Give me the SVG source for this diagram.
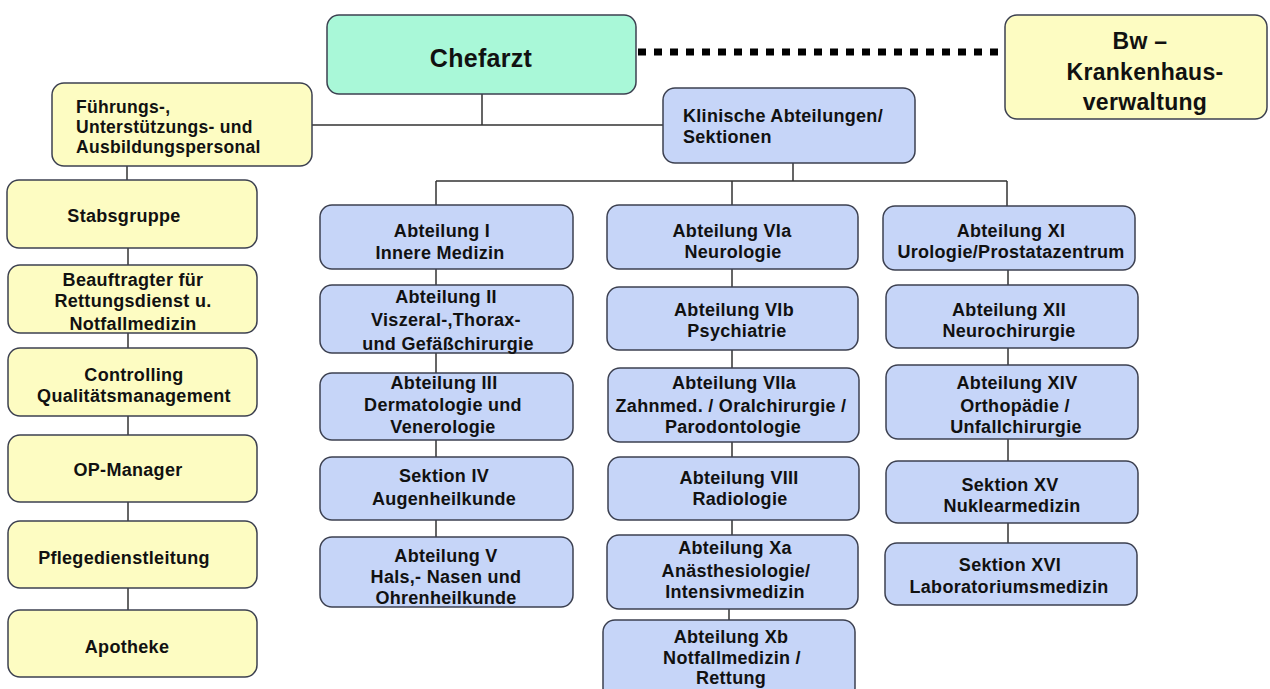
<svg xmlns="http://www.w3.org/2000/svg" width="1270" height="689" viewBox="0 0 1270 689">
<style>
.box{stroke:#3c4050;stroke-width:1.5}
.b{fill:#c6d5f8}
.y{fill:#fdfcc2}
.m{fill:#a9f8d8}
text{font-family:"Liberation Sans",Arial,sans-serif;font-weight:bold;fill:#111;font-size:18px;letter-spacing:0.3px}
.c{text-anchor:middle}
.ln{stroke:#333;stroke-width:1.5;fill:none}
</style>
<rect width="1270" height="689" fill="#ffffff"/>
<g id="connectors">
<path class="ln" d="M482 94V125M312 125H663M793 163V181M436 181H1007M436 181V205M732 181V205M1007 181V206"/>
<path class="ln" d="M127 166V180M128 248V265M128 333V348M128 416V435M128 502V521M128 588V610"/>
<path class="ln" d="M436 269V285M436 353V373M436 440V457M436 520V537"/>
<path class="ln" d="M732 269V287M732 350V368M732 442V457M732 520V535M729 609V620"/>
<path class="ln" d="M1008 270V285M1008 348V365M1008 439V461M1008 523V543"/>
<line x1="638" y1="52" x2="1003" y2="52" stroke="#000" stroke-width="7" stroke-dasharray="8 8"/>
</g>
<g id="chefarzt"><rect class="box m" x="327" y="15" width="309" height="79" rx="12"/><text class="c" x="481" y="67" style="font-size:25px">Chefarzt</text></g>
<g id="bw"><rect class="box y" x="1005" y="15" width="262" height="104" rx="12"/><text class="c" style="font-size:23px"><tspan x="1140" y="49">Bw –</tspan><tspan x="1145" y="80">Krankenhaus-</tspan><tspan x="1145" y="110">verwaltung</tspan></text></g>
<g id="fuehrung"><rect class="box y" x="52" y="83" width="260" height="83" rx="12"/><text style="font-size:17.5px"><tspan x="76" y="113">Führungs-,</tspan><tspan x="76" y="133">Unterstützungs- und</tspan><tspan x="76" y="153">Ausbildungspersonal</tspan></text></g>
<g id="klinisch"><rect class="box b" x="663" y="88" width="252" height="75" rx="12"/><text><tspan x="683" y="122">Klinische Abteilungen/</tspan><tspan x="683" y="143">Sektionen</tspan></text></g>

<g id="stabsgruppe"><rect class="box y" x="7" y="180" width="250" height="68" rx="12"/><text class="c" x="124" y="222">Stabsgruppe</text></g>
<g id="beauftragter"><rect class="box y" x="8" y="265" width="249" height="68" rx="12"/><text class="c"><tspan x="133" y="286">Beauftragter für</tspan><tspan x="133" y="307">Rettungsdienst u.</tspan><tspan x="133" y="330">Notfallmedizin</tspan></text></g>
<g id="controlling"><rect class="box y" x="8" y="348" width="249" height="68" rx="12"/><text class="c"><tspan x="134" y="381">Controlling</tspan><tspan x="134" y="402">Qualitätsmanagement</tspan></text></g>
<g id="opmanager"><rect class="box y" x="8" y="435" width="249" height="67" rx="12"/><text class="c" x="128" y="476">OP-Manager</text></g>
<g id="pflege"><rect class="box y" x="8" y="521" width="249" height="67" rx="12"/><text class="c" x="124" y="564">Pflegedienstleitung</text></g>
<g id="apotheke"><rect class="box y" x="8" y="610" width="249" height="67" rx="12"/><text class="c" x="127" y="653">Apotheke</text></g>

<g id="abt1"><rect class="box b" x="320" y="205" width="253" height="64" rx="12"/><text class="c"><tspan x="442" y="237">Abteilung I</tspan><tspan x="440" y="259">Innere Medizin</tspan></text></g>
<g id="abt2"><rect class="box b" x="320" y="285" width="253" height="68" rx="12"/><text class="c"><tspan x="446" y="303">Abteilung II</tspan><tspan x="446" y="326">Viszeral-,Thorax-</tspan><tspan x="448" y="350">und Gefäßchirurgie</tspan></text></g>
<g id="abt3"><rect class="box b" x="320" y="373" width="253" height="67" rx="12"/><text class="c"><tspan x="444" y="389">Abteilung III</tspan><tspan x="443" y="411">Dermatologie und</tspan><tspan x="443" y="433">Venerologie</tspan></text></g>
<g id="sek4"><rect class="box b" x="320" y="457" width="253" height="63" rx="12"/><text class="c"><tspan x="444" y="482">Sektion IV</tspan><tspan x="444" y="505">Augenheilkunde</tspan></text></g>
<g id="abt5"><rect class="box b" x="320" y="537" width="253" height="70" rx="12"/><text class="c"><tspan x="446" y="562">Abteilung V</tspan><tspan x="446" y="583">Hals,- Nasen und</tspan><tspan x="446" y="604">Ohrenheilkunde</tspan></text></g>

<g id="abt6a"><rect class="box b" x="607" y="205" width="251" height="64" rx="12"/><text class="c"><tspan x="732" y="237">Abteilung VIa</tspan><tspan x="733" y="258">Neurologie</tspan></text></g>
<g id="abt6b"><rect class="box b" x="607" y="287" width="251" height="63" rx="12"/><text class="c"><tspan x="734" y="316">Abteilung VIb</tspan><tspan x="737" y="337">Psychiatrie</tspan></text></g>
<g id="abt7a"><rect class="box b" x="608" y="368" width="251" height="74" rx="12"/><text class="c"><tspan x="734" y="389">Abteilung VIIa</tspan><tspan x="731" y="412">Zahnmed. / Oralchirurgie /</tspan><tspan x="733" y="433">Parodontologie</tspan></text></g>
<g id="abt8"><rect class="box b" x="608" y="457" width="251" height="63" rx="12"/><text class="c"><tspan x="739" y="484">Abteilung VIII</tspan><tspan x="740" y="505">Radiologie</tspan></text></g>
<g id="abt10a"><rect class="box b" x="607" y="535" width="251" height="74" rx="12"/><text class="c"><tspan x="735" y="554">Abteilung Xa</tspan><tspan x="736" y="577">Anästhesiologie/</tspan><tspan x="735" y="598">Intensivmedizin</tspan></text></g>
<g id="abt10b"><rect class="box b" x="603" y="620" width="252" height="80" rx="12"/><text class="c"><tspan x="731" y="643">Abteilung Xb</tspan><tspan x="732" y="664">Notfallmedizin /</tspan><tspan x="731" y="684">Rettung</tspan></text></g>

<g id="abt11"><rect class="box b" x="883" y="206" width="252" height="64" rx="12"/><text class="c"><tspan x="1011" y="237">Abteilung XI</tspan><tspan x="1011" y="258">Urologie/Prostatazentrum</tspan></text></g>
<g id="abt12"><rect class="box b" x="886" y="285" width="252" height="63" rx="12"/><text class="c"><tspan x="1009" y="316">Abteilung XII</tspan><tspan x="1009" y="337">Neurochirurgie</tspan></text></g>
<g id="abt14"><rect class="box b" x="886" y="365" width="252" height="74" rx="12"/><text class="c"><tspan x="1017" y="389">Abteilung XIV</tspan><tspan x="1015" y="412">Orthopädie /</tspan><tspan x="1016" y="433">Unfallchirurgie</tspan></text></g>
<g id="sek15"><rect class="box b" x="886" y="461" width="252" height="62" rx="12"/><text class="c"><tspan x="1010" y="491">Sektion XV</tspan><tspan x="1012" y="512">Nuklearmedizin</tspan></text></g>
<g id="sek16"><rect class="box b" x="885" y="543" width="252" height="62" rx="12"/><text class="c"><tspan x="1010" y="571">Sektion XVI</tspan><tspan x="1009" y="593">Laboratoriumsmedizin</tspan></text></g>
</svg>
